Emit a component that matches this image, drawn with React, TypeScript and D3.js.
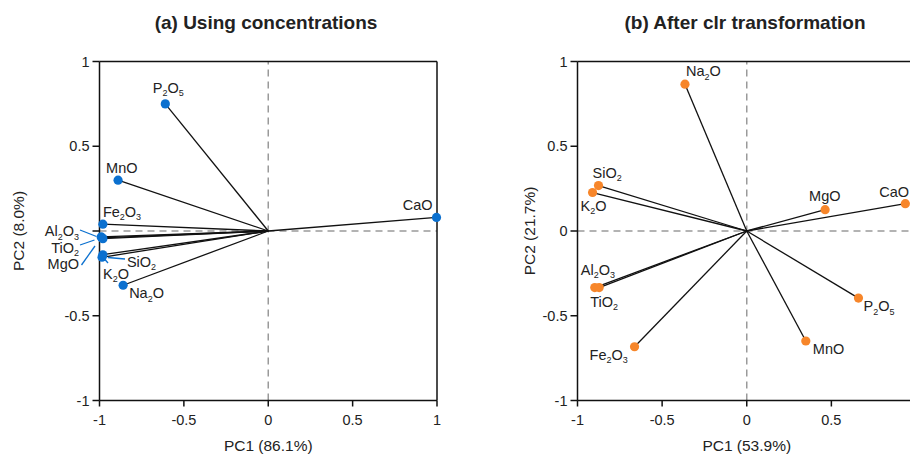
import React from "react";
import * as d3 from "d3";

// ---------- data ----------
const namesA = ["P2O5", "MnO", "Fe2O3", "Al2O3", "TiO2", "MgO", "SiO2", "K2O", "Na2O", "CaO"];
const pc1A = [-0.61, -0.89, -0.98, -0.99, -0.985, -0.98, -0.98, -0.985, -0.86, 0.997];
const pc2A = [0.75, 0.30, 0.04, -0.035, -0.04, -0.045, -0.14, -0.155, -0.32, 0.08];

const namesB = ["Na2O", "SiO2", "K2O", "MgO", "CaO", "Al2O3", "TiO2", "Fe2O3", "MnO", "P2O5"];
const pc1B = [-0.365, -0.876, -0.911, 0.463, 0.937, -0.898, -0.872, -0.663, 0.349, 0.66];
const pc2B = [0.866, 0.268, 0.227, 0.126, 0.161, -0.334, -0.334, -0.683, -0.649, -0.396];

const axisTicks = [-1, -0.5, 0, 0.5, 1];
// tick labels actually shown in each panel
const xTickLabelsA = [-1, -0.5, 0, 0.5, 1];
const yTickLabelsA = [-1, -0.5, 0.5, 1];
const xTickLabelsB = [-1, -0.5, 0, 0.5];
const yTickLabelsB = [-1, -0.5, 0, 0.5, 1];
const titleA = "(a) Using concentrations";
const titleB = "(b) After clr transformation";
const xTitleA = "PC1 (86.1%)";
const yTitleA = "PC2 (8.0%)";
const xTitleB = "PC1 (53.9%)";
const yTitleB = "PC2 (21.7%)";

// ---------- layout (label placement relative to points, px) ----------
type Lab = { dx: number; dy: number; anchor?: string };
const labelsA: Record<string, Lab> = {
  P2O5: { dx: 3, dy: -11, anchor: "middle" },
  MnO: { dx: -12, dy: -7 },
  Fe2O3: { dx: 0, dy: -7.5 },
  CaO: { dx: -4, dy: -7, anchor: "end" },
  SiO2: { dx: 24, dy: 12 },
  K2O: { dx: 1, dy: 21.5 },
  Na2O: { dx: 6, dy: 13 },
};
const sideLabelsA: Record<string, { x: number; y: number; lx1: number; ly1: number; lx2: number; ly2: number }> = {
  Al2O3: { x: 79, y: 236, lx1: 80, ly1: 230, lx2: 96.5, ly2: 236.5 },
  TiO2: { x: 79, y: 252.5, lx1: 80, ly1: 245, lx2: 94.5, ly2: 240 },
  MgO: { x: 79, y: 268.5, lx1: 81.5, ly1: 265, lx2: 95, ly2: 246 },
};
const leadersA = [
  { x1: 108, y1: 257.5, x2: 125, y2: 259 },
  { x1: 104.5, y1: 259, x2: 108, y2: 263 },
];
const labelsB: Record<string, Lab> = {
  Na2O: { dx: 1, dy: -8 },
  SiO2: { dx: -6, dy: -8 },
  K2O: { dx: -12, dy: 18 },
  MgO: { dx: -16, dy: -8.5 },
  CaO: { dx: -26, dy: -7 },
  Al2O3: { dx: -14, dy: -13 },
  TiO2: { dx: -9, dy: 19 },
  Fe2O3: { dx: -45, dy: 13 },
  MnO: { dx: 7, dy: 13 },
  P2O5: { dx: 5, dy: 13 },
};

const FONT = "'Liberation Sans', Arial, Helvetica, sans-serif";
const BLUE = "#0B70CF";
const ORANGE = "#F7862A";

function Chem({ name, x, y, anchor = "start" }: { name: string; x: number; y: number; anchor?: string }) {
  const parts = name.match(/[A-Za-z]+|\d+/g) || [];
  let sub = false;
  return (
    <text x={x} y={y} textAnchor={anchor} fontFamily={FONT} fontSize={14.5} fill="#222">
      {parts.map((p, i) => {
        const isNum = /\d/.test(p);
        let dy = 0;
        if (isNum && !sub) { dy = 3.5; sub = true; }
        else if (!isNum && sub) { dy = -3.5; sub = false; }
        return (
          <tspan key={i} dy={dy} fontSize={isNum ? 9 : 14.5}>{p}</tspan>
        );
      })}
    </text>
  );
}

function Panel({
  x0, x1, names, pc1, pc2, color, labels, title, titleX, xTitle, yTitle, yTitleX, extra, xLabs, yLabs,
}: any) {
  const sx = d3.scaleLinear().domain([-1, 1]).range([x0, x1]);
  const sy = d3.scaleLinear().domain([-1, 1]).range([400.5, 61.5]);
  const fmt = (v: number) => String(v);
  return (
    <g>
      <text x={titleX} y={29} textAnchor="middle" fontFamily={FONT} fontWeight="bold" fontSize={19} fill="#222">{title}</text>
      <line x1={sx(-1)} x2={sx(1)} y1={sy(0)} y2={sy(0)} stroke="#9a9a9a" strokeWidth={1.5} strokeDasharray="7,5" />
      <line x1={sx(0)} x2={sx(0)} y1={sy(-1)} y2={sy(1)} stroke="#9a9a9a" strokeWidth={1.5} strokeDasharray="7,5" />
      <line x1={sx(-1)} x2={sx(1)} y1={sy(1)} y2={sy(1)} stroke="#111" strokeWidth={1.5} />
      <line x1={sx(1)} x2={sx(1)} y1={sy(-1)} y2={sy(1)} stroke="#111" strokeWidth={1.5} />
      <line x1={sx(-1)} x2={sx(1)} y1={sy(-1)} y2={sy(-1)} stroke="#111" strokeWidth={1.5} />
      <line x1={sx(-1)} x2={sx(-1)} y1={sy(-1)} y2={sy(1)} stroke="#111" strokeWidth={1.5} />
      {axisTicks.map((t) => (
        <g key={"x" + t}>
          <line x1={sx(t)} x2={sx(t)} y1={sy(-1)} y2={sy(-1) + 6} stroke="#111" strokeWidth={1.5} />
          {xLabs.includes(t) && (
            <text x={sx(t)} y={425} textAnchor="middle" fontFamily={FONT} fontSize={14.5} fill="#222">{fmt(t)}</text>
          )}
        </g>
      ))}
      {axisTicks.map((t) => (
        <g key={"y" + t}>
          <line x1={sx(-1) - 7} x2={sx(-1)} y1={sy(t)} y2={sy(t)} stroke="#111" strokeWidth={1.5} />
          {yLabs.includes(t) && (
            <text x={sx(-1) - 10} y={sy(t) + 5} textAnchor="end" fontFamily={FONT} fontSize={14.5} fill="#222">{fmt(t)}</text>
          )}
        </g>
      ))}
      <text x={sx(0)} y={451} textAnchor="middle" fontFamily={FONT} fontSize={15.5} fill="#222">{xTitle}</text>
      <text transform={`translate(${yTitleX},${sy(0)}) rotate(-90)`} textAnchor="middle" fontFamily={FONT} fontSize={15.5} fill="#222">{yTitle}</text>
      {names.map((n: string, i: number) => (
        <line key={"v" + n} x1={sx(0)} y1={sy(0)} x2={sx(pc1[i])} y2={sy(pc2[i])} stroke="#111" strokeWidth={1.3} />
      ))}
      {extra}
      {names.map((n: string, i: number) => (
        <circle key={"c" + n} cx={sx(pc1[i])} cy={sy(pc2[i])} r={4.6} fill={color} />
      ))}
      {names.map((n: string, i: number) => {
        const l = labels[n];
        if (!l) return null;
        return <Chem key={"l" + n} name={n} x={sx(pc1[i]) + l.dx} y={sy(pc2[i]) + l.dy} anchor={l.anchor || "start"} />;
      })}
    </g>
  );
}

export default function App() {
  const extraA = (
    <g>
      {Object.entries(sideLabelsA).map(([n, s]) => (
        <g key={n}>
          <line x1={s.lx1} y1={s.ly1} x2={s.lx2} y2={s.ly2} stroke={BLUE} strokeWidth={1.3} />
          <Chem name={n} x={s.x} y={s.y} anchor="end" />
        </g>
      ))}
      {leadersA.map((l, i) => (
        <line key={i} x1={l.x1} y1={l.y1} x2={l.x2} y2={l.y2} stroke={BLUE} strokeWidth={1.3} />
      ))}
    </g>
  );
  return (
    <svg width={910} height={456} style={{ position: "absolute", left: 0, top: 0, background: "#fff" }}>
      <rect width={910} height={456} fill="#fff" />
      <Panel x0={99.5} x1={437} names={namesA} pc1={pc1A} pc2={pc2A} color={BLUE} labels={labelsA}
        title={titleA} titleX={266} xTitle={xTitleA} yTitle={yTitleA} yTitleX={24} extra={extraA}
        xLabs={xTickLabelsA} yLabs={yTickLabelsA} />
      <Panel x0={577.5} x1={916} names={namesB} pc1={pc1B} pc2={pc2B} color={ORANGE} labels={labelsB}
        title={titleB} titleX={745} xTitle={xTitleB} yTitle={yTitleB} yTitleX={535} extra={null}
        xLabs={xTickLabelsB} yLabs={yTickLabelsB} />
    </svg>
  );
}
